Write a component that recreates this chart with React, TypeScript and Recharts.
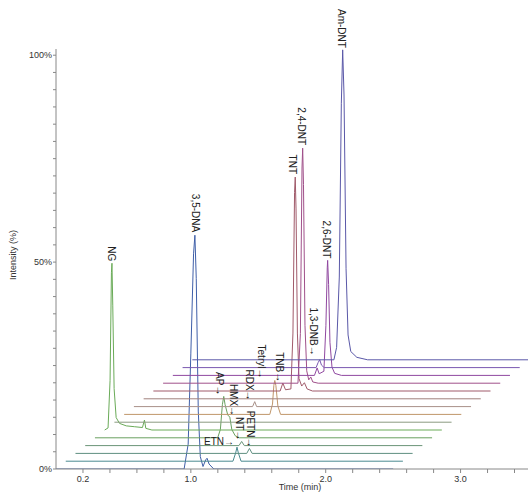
import { LabelList, Line, LineChart, XAxis, YAxis } from "recharts";

// time (min), intensity (%), optional peak name
type Pt = [number, number, string?];

const TRACE_0: Pt[] = [[0, 0], [0.95, 0], [0.98, 6], [1.0, 28], [1.02, 52], [1.03, 56.5, "3,5-DNA"], [1.04, 46], [1.055, 14], [1.07, 3], [1.09, 0.6], [1.11, 2.2], [1.12, 2.6], [1.135, 1.2], [1.17, 0], [2.5, 0]];
const TRACE_1: Pt[] = [[0, 0], [1.24, 0], [1.26, 2], [1.27, 3.4, "ETN"], [1.28, 2], [1.3, 0], [2.5, 0]];
const TRACE_2: Pt[] = [[0, 0], [1.27, 0], [1.29, 1.2, "PETN"], [1.31, 0], [2.5, 0]];
const TRACE_3: Pt[] = [[0, 0], [1.14, 0], [1.16, 1, "NT"], [1.18, 0], [2.5, 0]];
const TRACE_4: Pt[] = [[0, 0], [0.91, 0], [0.93, 2], [0.945, 8], [0.955, 10, "AP"], [0.965, 8], [0.985, 5.5], [1.0, 5, "HMX"], [1.015, 2], [1.04, 0.5], [1.07, 0], [2.5, 0]];
const TRACE_5: Pt[] = [[0, 0], [0.025, 0.5], [0.04, 12], [0.05, 38], [0.054, 40.3, "NG"], [0.06, 30], [0.07, 10], [0.085, 3], [0.11, 1.6], [0.16, 1], [0.22, 0.8], [0.28, 0.6], [0.295, 2.4], [0.305, 0.4], [0.35, 0], [2.5, 0]];
const TRACE_6: Pt[] = [[0, 0], [2.5, 0]];
const TRACE_7: Pt[] = [[0, 0], [1.08, 0], [1.1, 2.5], [1.11, 7], [1.117, 8.2, "Tetryl"], [1.125, 7], [1.14, 2], [1.16, 0], [2.5, 0]];
const TRACE_8: Pt[] = [[0, 0], [0.88, 0], [0.896, 1.2, "RDX"], [0.91, 0], [2.5, 0]];
const TRACE_9: Pt[] = [[0, 0], [2.5, 0]];
const TRACE_10: Pt[] = [[0, 0], [0.94, 0], [0.96, 1.9, "TNB"], [0.98, 0.3], [1.02, 0.5], [1.035, 14], [1.047, 48], [1.052, 51.7, "TNT"], [1.058, 44], [1.068, 14], [1.08, 3], [1.1, 1.2], [1.12, 2], [1.14, 0.5], [1.18, 0], [2.5, 0]];
const TRACE_11: Pt[] = [[0, 0], [1.0, 0], [1.018, 12], [1.03, 52], [1.035, 56.8, "2,4-DNT"], [1.041, 48], [1.052, 14], [1.065, 3], [1.08, 0.8], [1.095, 1.5], [1.11, 0.3], [1.15, 0], [2.5, 0]];
const TRACE_12: Pt[] = [[0, 0], [1.05, 0], [1.07, 1.8], [1.085, 0.4], [1.12, 1], [1.135, 12], [1.145, 26], [1.148, 27.8, "2,6-DNT"], [1.155, 22], [1.165, 8], [1.18, 2], [1.2, 0.5], [1.25, 0], [2.5, 0]];
const TRACE_13: Pt[] = [[0, 0], [0.99, 0], [1.005, 1.2], [1.017, 1.9, "1,3-DNB"], [1.03, 0.6], [1.05, 0], [2.5, 0]];
const TRACE_14: Pt[] = [[0, 0], [1.05, 0], [1.07, 3], [1.09, 20], [1.105, 62], [1.115, 74.9, "Am-DNT"], [1.125, 64], [1.14, 22], [1.155, 6], [1.175, 2], [1.22, 0.6], [1.3, 0], [2.5, 0]];

const TRACES = [TRACE_0, TRACE_1, TRACE_2, TRACE_3, TRACE_4, TRACE_5, TRACE_6, TRACE_7, TRACE_8, TRACE_9, TRACE_10, TRACE_11, TRACE_12, TRACE_13, TRACE_14];

const TRACE_COLORS = ["#3f5fa8", "#4a8a90", "#5f8f80", "#6a9478", "#6aa060", "#6aab58", "#8a9a80", "#c0966a", "#a89088", "#a0807c", "#a05a6a", "#a0508a", "#9048a0", "#7a58b0", "#5a58a8"];

const X_TICKS = [0.2, 0.4, 0.6, 0.8, 1.0, 1.2, 1.4, 1.6, 1.8, 2.0, 2.2, 2.4, 2.6, 2.8, 3.0, 3.2, 3.4];
const X_LABELED = [0.2, 1.0, 2.0, 3.0];
const Y_MAJOR = [0, 50, 100];

const TIME_MAX = 3.5;
const INTENSITY_MAX = 101.5;
// waterfall offset per trace
const DX = 0.0722;
const DY = 1.885;

const Y_TICKS = Array.from({ length: 25 }, (_, i) => (i * 100) / 24);

const FONT = "'Liberation Sans', Arial, sans-serif";
const TEXT = "#333";
const AXIS = "#888";

const LABEL_LAYOUT: Record<string, { dx: number; dy: number; arrow?: boolean; flat?: boolean }> = {
    "NG": { dx: 0, dy: -2 },
    "3,5-DNA": { dx: 1, dy: -3 },
    "AP": { dx: -4, dy: -1, arrow: true },
    "HMX": { dx: 4, dy: -1, arrow: true },
    "RDX": { dx: -5, dy: -1, arrow: true },
    "Tetryl": { dx: -13, dy: -2, arrow: true },
    "TNB": { dx: -3, dy: -1, arrow: true },
    "1,3-DNB": { dx: -6, dy: -4, arrow: true },
    "TNT": { dx: -3, dy: -3 },
    "2,4-DNT": { dx: -1, dy: -3 },
    "2,6-DNT": { dx: -1, dy: -2 },
    "Am-DNT": { dx: -1, dy: -2 },
    "ETN": { dx: -3, dy: -2, arrow: true, flat: true },
    "NT": { dx: -2, dy: -1, arrow: true },
    "PETN": { dx: 1, dy: -1, arrow: true },
};

function renderPeakLabel(props: any) {
    const name = props.value;
    if (!name) return null;
    const x = props.x ?? props.viewBox?.x;
    const y = props.y ?? props.viewBox?.y;
    const lay = LABEL_LAYOUT[name] ?? { dx: 0, dy: -2 };
    const txt = lay.arrow ? `${name}\u2192` : name;
    const px = x + lay.dx;
    const py = y + lay.dy;
    return (
        <text
            x={0}
            y={0}
            transform={lay.flat ? `translate(${px},${py})` : `translate(${px},${py}) rotate(90)`}
            textAnchor="end"
            dominantBaseline={lay.flat ? "auto" : "central"}
            fontSize={10}
            fontFamily={FONT}
            fill="#222"
        >
            {txt}
        </text>
    );
}

const series = TRACES.map((tr) => tr.map(([t, v, name]) => ({ t, v, name })));

export default function App() {
    return (
        <div style={{ position: "absolute", left: 0, top: 0, background: "#fff" }}>
            <LineChart width={528} height={492} margin={{ top: 49, right: 0, bottom: 0, left: 0 }}>
                {series.map((_, k) => (
                    <XAxis
                        key={`x${k}`}
                        xAxisId={k}
                        type="number"
                        dataKey="t"
                        domain={[-k * DX, TIME_MAX - k * DX]}
                        allowDataOverflow
                        hide={k > 0}
                        height={23}
                        ticks={X_TICKS}
                        interval={0}
                        tickSize={4}
                        tickMargin={3}
                        stroke={AXIS}
                        tick={{ fontSize: 9, fill: TEXT, fontFamily: FONT }}
                        tickFormatter={(v: number) => (X_LABELED.some((l) => Math.abs(l - v) < 1e-6) ? v.toFixed(1) : "")}
                        label={{
                            value: "Time (min)",
                            content: () => (
                                <text x={300} y={490} textAnchor="middle" fontSize={9} fontFamily={FONT} fill={TEXT}>
                                    Time (min)
                                </text>
                            ),
                        }}
                    />
                ))}
                {series.map((_, k) => (
                    <YAxis
                        key={`y${k}`}
                        yAxisId={k}
                        type="number"
                        domain={[-k * DY, INTENSITY_MAX - k * DY]}
                        allowDataOverflow
                        hide={k > 0}
                        width={56}
                        ticks={Y_TICKS}
                        interval={0}
                        tickSize={3}
                        tickMargin={1}
                        stroke={AXIS}
                        tick={{ fontSize: 9, fill: TEXT, fontFamily: FONT }}
                        tickFormatter={(v: number) => (Y_MAJOR.some((m) => Math.abs(m - v) < 1e-6) ? `${Math.round(v)}%` : "")}
                        label={{
                            value: "Intensity (%)",
                            content: () => (
                                <text x={0} y={0} transform="translate(16,255) rotate(-90)" textAnchor="middle" fontSize={9} fontFamily={FONT} fill={TEXT}>
                                    Intensity (%)
                                </text>
                            ),
                        }}
                    />
                ))}
                {series.map((data, k) => (
                    <Line
                        key={`trace${k}`}
                        data={data}
                        dataKey="v"
                        xAxisId={k}
                        yAxisId={k}
                        type="linear"
                        stroke={TRACE_COLORS[k]}
                        strokeWidth={1}
                        dot={false}
                        activeDot={false}
                        isAnimationActive={false}
                    >
                        <LabelList dataKey="name" content={renderPeakLabel} />
                    </Line>
                ))}
            </LineChart>
        </div>
    );
}
